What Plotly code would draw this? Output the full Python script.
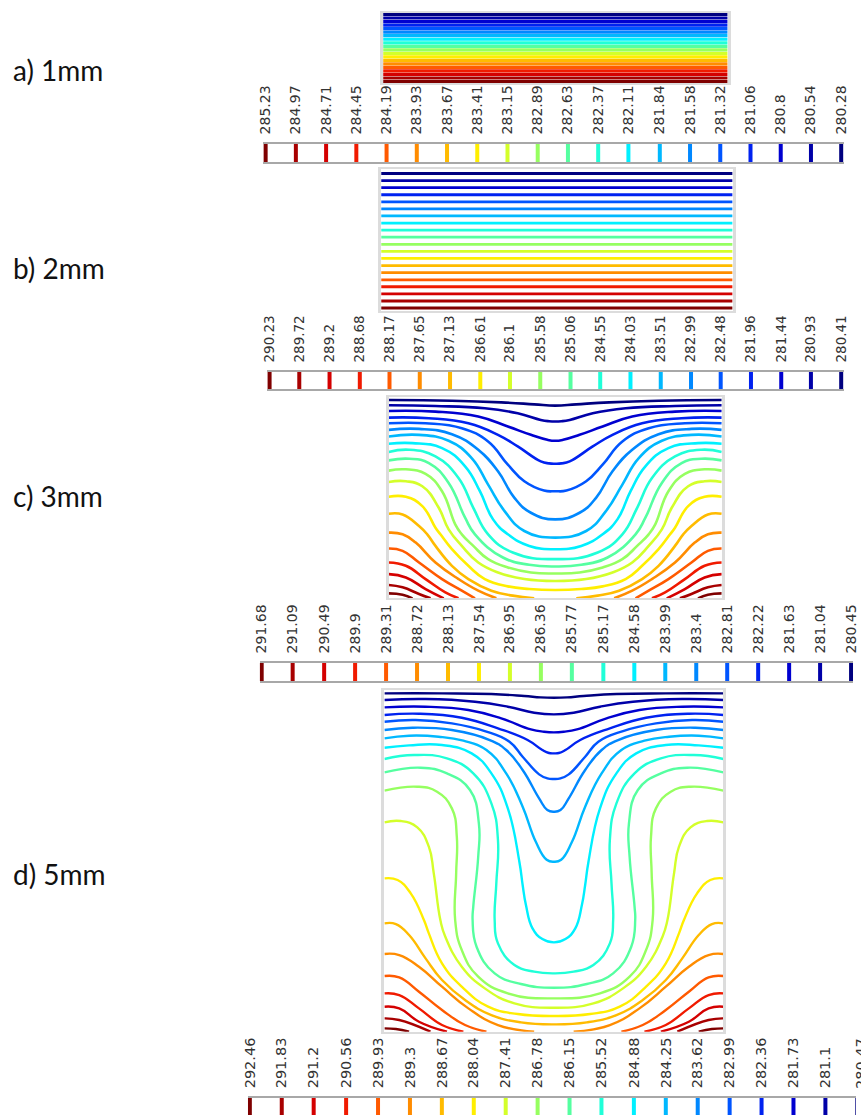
import plotly.graph_objects as go

W, H = 861, 1115

levels_a = [285.23,284.97,284.71,284.45,284.19,283.93,283.67,283.41,283.15,282.89,282.63,282.37,282.11,281.84,281.58,281.32,281.06,280.8,280.54,280.28]
levels_b = [290.23,289.72,289.2,288.68,288.17,287.65,287.13,286.61,286.1,285.58,285.06,284.55,284.03,283.51,282.99,282.48,281.96,281.44,280.93,280.41]
levels_c = [291.68,291.09,290.49,289.9,289.31,288.72,288.13,287.54,286.95,286.36,285.77,285.17,284.58,283.99,283.4,282.81,282.22,281.63,281.04,280.45]
levels_d = [292.46,291.83,291.2,290.56,289.93,289.3,288.67,288.04,287.41,286.78,286.15,285.52,284.88,284.25,283.62,282.99,282.36,281.73,281.1,280.47]

colors = ["#7f0000","#a80000","#d40000","#f01a00","#ff5a00","#ff8c00","#ffbb00","#ffee00","#d4ff2a","#96ff60",
          "#55ffa0","#20ffd8","#00f0ff","#00b8ff","#0088ff","#0055ff","#0022f0","#0000d0","#0000a8","#00007f"]

panel_labels = ["a) 1mm", "b) 2mm", "c) 3mm", "d) 5mm"]

# Panel c isolines, navy (coolest) to dark red, left half: (across, depth)
c01 = [(23,30),(215,32),(365,37),(465,43),(529,47)]
c02 = [(23,46),(165,48),(315,55),(415,70),(485,90),(510,94),(529,95)]
c03 = [(23,63),(165,65),(295,80),(385,110),(455,135),(505,150),(529,153)]
c04 = [(23,83),(145,85),(265,100),(355,135),(415,170),(485,215),(510,221),(529,222)]
c05 = [(23,100),(135,100),(245,115),(325,155),(385,225),(435,275),(495,303),(529,305)]
c06 = [(23,120),(115,117),(215,133),(295,180),(355,245),(405,325),(455,370),(529,390)]
c07 = [(23,140),(115,135),(205,153),(275,205),(325,285),(375,365),(435,425),(529,445)]
c08 = [(23,162),(95,160),(185,175),(255,230),(300,305),(340,390),(385,435),(450,470),(529,480)]
c09 = [(23,187),(85,180),(165,200),(235,265),(280,355),(325,435),(400,490),(529,510)]
c10 = [(23,212),(85,207),(145,220),(205,280),(255,385),(285,435),(370,505),(450,527),(529,532)]
c11 = [(23,243),(75,239),(135,253),(185,305),(225,405),(245,435),(280,470),(325,510),(385,535),(455,550),(529,553)]
c12 = [(23,277),(75,275),(125,290),(175,355),(205,420),(245,470),(295,520),(355,550),(435,570),(529,576)]
c13 = [(23,322),(75,322),(125,350),(165,415),(180,435),(215,480),(265,530),(315,570),(385,592),(450,600),(529,603)]
c14 = [(23,373),(65,375),(115,410),(140,435),(165,470),(215,530),(265,570),(335,605),(400,620),(465,628)]
c15 = [(23,430),(65,435),(105,460),(165,520),(235,570),(295,605),(350,628)]
c16 = [(23,478),(65,485),(115,520),(185,570),(245,605),(285,628)]
c17 = [(23,520),(75,530),(135,570),(195,610),(235,628)]
c18 = [(23,555),(75,565),(135,600),(190,628)]
c19 = [(23,588),(65,595),(115,615),(150,628)]
c20 = [(23,613),(65,617),(95,628)]

# Panel d isolines, navy (coolest) to dark red, left half: (across, depth)
d01 = [(25,25),(200,25),(350,27),(450,33),(500,37),(540,38)]
d02 = [(25,45),(150,42),(300,50),(400,65),(480,83),(540,88)]
d03 = [(25,67),(150,65),(280,75),(380,100),(470,133),(510,140),(540,142)]
d04 = [(25,90),(130,86),(260,98),(370,130),(460,165),(505,195),(525,204),(540,205)]
d05 = [(25,110),(120,105),(230,115),(330,138),(405,170),(445,215),(495,268),(520,280),(540,282)]
d06 = [(25,135),(110,128),(230,135),(345,165),(395,195),(445,255),(495,340),(520,375),(540,380)]
d07 = [(25,160),(100,152),(190,155),(265,167),(335,195),(395,265),(445,365),(485,470),(518,524),(540,530)]
d08 = [(25,188),(100,181),(200,180),(290,205),(350,265),(400,370),(435,530),(445,600),(455,660),(475,730),(505,762),(540,772)]
d09 = [(25,222),(115,210),(215,220),(295,265),(350,355),(370,465),(365,595),(360,705),(370,775),(420,840),(480,860),(540,865)]
d10 = [(25,262),(135,248),(215,265),(285,315),(312,415),(310,515),(295,665),(293,705),(305,785),(360,865),(440,897),(540,908)]
d11 = [(25,317),(125,305),(185,320),(230,370),(245,455),(243,565),(240,705),(260,795),(310,875),(400,925),(540,940)]
d12 = [(25,412),(75,408),(125,427),(160,485),(175,565),(195,705),(210,755),(260,845),(330,910),(420,955),(540,968)]
d13 = [(25,580),(65,585),(105,625),(145,705),(160,745),(200,835),(260,905),(340,965),(430,987),(540,993)]
d14 = [(25,715),(60,717),(100,750),(150,820),(200,885),(270,945),(350,990),(440,1012),(540,1018)]
d15 = [(25,807),(70,810),(130,845),(200,905),(280,970),(370,1020),(480,1040)]
d16 = [(25,873),(70,877),(130,920),(200,975),(270,1020),(335,1040)]
d17 = [(25,925),(70,930),(130,970),(200,1020),(265,1040)]
d18 = [(25,965),(70,970),(130,1010),(215,1040)]
d19 = [(25,1000),(70,1005),(165,1040)]
d20 = [(25,1030),(60,1032),(100,1040)]

curves_c = [c01,c02,c03,c04,c05,c06,c07,c08,c09,c10,c11,c12,c13,c14,c15,c16,c17,c18,c19,c20]
curves_d = [d01,d02,d03,d04,d05,d06,d07,d08,d09,d10,d11,d12,d13,d14,d15,d16,d17,d18,d19,d20]


def dom_y(top, bottom):
    return [1 - bottom / H, 1 - top / H]


def dom_x(left, right):
    return [left / W, right / W]


def strip_range(first, last, px_first, px_last, px_left, px_right):
    k = (first - last) / (px_last - px_first)
    return [first + (px_first - px_left) * k, last - (px_right - px_last) * k]


fig = go.Figure()
FRAME = "#dcdcdc"
STRIP = "#a8a8a8"
layout = {}


def axes(n, xdom, ydom, xrange, yrange):
    s = "" if n == 1 else str(n)
    layout["xaxis" + s] = dict(domain=xdom, range=xrange, anchor="y" + s, showgrid=False, zeroline=False,
                               showticklabels=False, ticks="", showline=True, mirror=True,
                               linecolor=FRAME, linewidth=1.5)
    layout["yaxis" + s] = dict(domain=ydom, range=yrange, anchor="x" + s, showgrid=False, zeroline=False,
                               showticklabels=False, ticks="", showline=True, mirror=True,
                               linecolor=FRAME, linewidth=2.5)
    return ("x" + s, "y" + s)


def strip(n, levels, box, px_first, px_last, font_size):
    left, right, top, bottom = box
    s = "" if n == 1 else str(n)
    rng = strip_range(levels[0], levels[px_last[0]], px_first, px_last[1], left, right)
    layout["xaxis" + s] = dict(domain=dom_x(left, right), range=rng, anchor="y" + s, side="top",
                               tickvals=levels, ticktext=[str(v) for v in levels], tickangle=-90,
                               ticks="outside", ticklen=5, tickcolor="rgba(0,0,0,0)", showgrid=False,
                               zeroline=False, showline=True, mirror=True, linecolor=STRIP, linewidth=1.5,
                               tickfont=dict(family="DejaVu Sans", size=font_size, color="#333333"))
    layout["yaxis" + s] = dict(domain=dom_y(top, bottom), range=[0, 1], anchor="x" + s, showgrid=False,
                               zeroline=False, showticklabels=False, ticks="", showline=False)
    for v, c in zip(levels, colors):
        fig.add_trace(go.Scatter(x=[v, v], y=[0, 1], xaxis="x" + s, yaxis="y" + s, mode="lines",
                                 line=dict(color=c, width=4), hoverinfo="skip", showlegend=False))


def half_to_full(curve, centre):
    xs = [p[0] for p in curve]
    ys = [p[1] for p in curve]
    mx = [2 * centre - x for x in reversed(xs)]
    my = list(reversed(ys))
    if xs[-1] == centre:
        return xs + mx[1:], ys + my[1:]
    return xs + [None] + mx, ys + [None] + my


# Panel a
xa, ya = axes(1, dom_x(382, 731), dom_y(13, 83), [0, 1], [285.34, 280.17])
for v, c in zip(levels_a, colors):
    fig.add_trace(go.Scatter(x=[0, 1], y=[v, v], xaxis=xa, yaxis=ya, mode="lines",
                             line=dict(color=c, width=3.2), hoverinfo="skip", showlegend=False))
# Panel b
xb, yb = axes(2, dom_x(380, 736), dom_y(169, 311), [0, 1], [290.45, 280.08])
for v, c in zip(levels_b, colors):
    fig.add_trace(go.Scatter(x=[0, 1], y=[v, v], xaxis=xb, yaxis=yb, mode="lines",
                             line=dict(color=c, width=2.8), hoverinfo="skip", showlegend=False))
# Panel c
xc, yc = axes(3, dom_x(387.7, 725), dom_y(396.7, 598.3), [23, 1035], [628, 20])
for crv, c in zip(curves_c, reversed(colors)):
    X, Y = half_to_full(crv, 529)
    fig.add_trace(go.Scatter(x=X, y=Y, xaxis=xc, yaxis=yc, mode="lines",
                             line=dict(color=c, width=2.6, shape="spline", smoothing=1.3),
                             hoverinfo="skip", showlegend=False))
# Panel d
xd, yd = axes(4, dom_x(383.3, 726.7), dom_y(689.7, 1031.7), [25, 1055], [1040, 14])
for crv, c in zip(curves_d, reversed(colors)):
    X, Y = half_to_full(crv, 540)
    fig.add_trace(go.Scatter(x=X, y=Y, xaxis=xd, yaxis=yd, mode="lines",
                             line=dict(color=c, width=2.4, shape="spline", smoothing=1.3),
                             hoverinfo="skip", showlegend=False))

strip(5, levels_a, (260, 849, 144, 162), 263, (19, 846), 14)
strip(6, levels_b, (264, 849, 372, 389), 267, (19, 846), 13.5)
strip(7, levels_c, (257, 858, 663, 681), 259, (19, 856), 14)
strip(8, levels_d, (245, 861, 1098, 1115), 247, (18, 830), 14.5)
layout["xaxis8"]["mirror"] = False

annotations = []
for txt, y in zip(panel_labels, [70, 268, 496, 874]):
    annotations.append(dict(text=txt, xref="paper", yref="paper", x=5 / W, y=1 - y / H, xanchor="left",
                            yanchor="middle", showarrow=False,
                            font=dict(family="Lato", size=28, color="#111111")))
annotations.append(dict(text=str(levels_d[-1]), xref="paper", yref="paper", x=866 / W, y=1 - 1063 / H,
                        textangle=-90, showarrow=False, xanchor="center", yanchor="middle",
                        font=dict(family="DejaVu Sans", size=14.5, color="#333333")))

fig.update_layout(width=W, height=H, margin=dict(l=0, r=0, t=0, b=0), plot_bgcolor="white", paper_bgcolor="white",
                  showlegend=False, annotations=annotations, **layout)
fig.write_html("out.html", config=dict(displayModeBar=False),
               post_script="document.body.style.margin='0';document.body.style.overflow='hidden';")
